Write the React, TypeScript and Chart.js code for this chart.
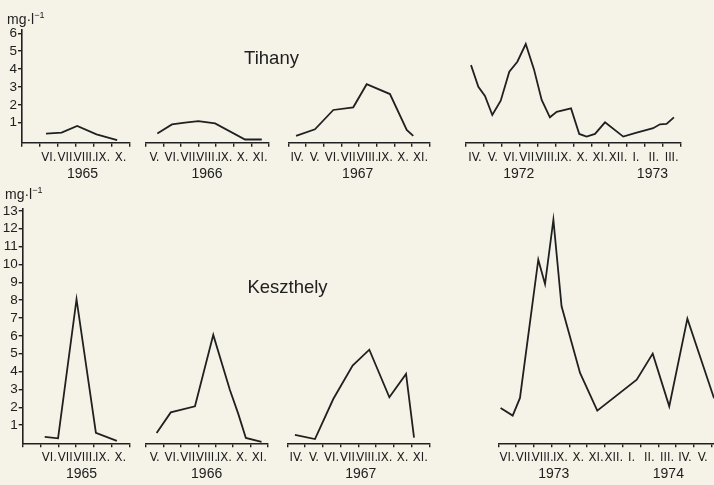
import React, { useEffect, useRef } from 'react';
import { Chart, registerables } from 'chart.js';

Chart.register(...registerables);

const INK = '#202020';
const BG = '#f5f3e8';
const NARROW = "'Liberation Sans Narrow', 'DejaVu Sans Condensed', 'Liberation Sans', sans-serif";
const SANS = "'Liberation Sans', 'DejaVu Sans', sans-serif";

// ---------------- data (x = month number, 13 = January of the following year) ----------------
// Tihany
const tihany1965Months = [6.34, 7.21, 8.08, 9.16, 10.31];
const tihany1965Values = [0.39, 0.44, 0.82, 0.35, 0.03];
const tihany1965Ticks = ['VI.', 'VII.', 'VIII.', 'IX.', 'X.'];
const tihany1965Years = ['1965'];

const tihany1966Months = [5.66, 6.49, 7.23, 7.99, 8.94, 10.64, 11.59];
const tihany1966Values = [0.4, 0.9, 1.0, 1.09, 0.96, 0.06, 0.06];
const tihany1966Ticks = ['V.', 'VI.', 'VII.', 'VIII.', 'IX.', 'X.', 'XI.'];
const tihany1966Years = ['1966'];

const tihany1967Months = [4.44, 5.51, 6.55, 7.68, 8.44, 9.76, 10.71, 11.08];
const tihany1967Values = [0.26, 0.63, 1.71, 1.86, 3.15, 2.6, 0.59, 0.26];
const tihany1967Ticks = ['IV.', 'V.', 'VI.', 'VII.', 'VIII.', 'IX.', 'X.', 'XI.'];
const tihany1967Years = ['1967'];

const tihany1972Months = [4.28, 4.69, 5.06, 5.47, 5.94, 6.42, 6.87, 7.34, 7.8, 8.23, 8.69, 9.07, 9.87, 10.33, 10.74, 11.21, 11.77, 12.79, 13.44, 14.46, 14.84, 15.21, 15.62];
const tihany1972Values = [4.22, 3.01, 2.49, 1.43, 2.23, 3.85, 4.41, 5.4, 3.98, 2.27, 1.3, 1.61, 1.8, 0.37, 0.22, 0.37, 1.02, 0.22, 0.41, 0.69, 0.91, 0.93, 1.3];
const tihany1972Ticks = ['IV.', 'V.', 'VI.', 'VII.', 'VIII.', 'IX.', 'X.', 'XI.', 'XII.', 'I.', 'II.', 'III.'];
const tihany1972Years = ['1972', '1973'];

// Keszthely
const keszthely1965Months = [6.24, 6.99, 8.03, 9.12, 10.3];
const keszthely1965Values = [0.34, 0.26, 8.05, 0.56, 0.12];
const keszthely1965Ticks = ['VI.', 'VII.', 'VIII.', 'IX.', 'X.'];
const keszthely1965Years = ['1965'];

const keszthely1966Months = [5.61, 6.42, 7.81, 8.86, 9.81, 10.29, 10.73, 11.63];
const keszthely1966Values = [0.56, 1.71, 2.05, 6.05, 2.98, 1.64, 0.28, 0.06];
const keszthely1966Ticks = ['V.', 'VI.', 'VII.', 'VIII.', 'IX.', 'X.', 'XI.'];
const keszthely1966Years = ['1966'];

const keszthely1967Months = [4.43, 5.56, 6.59, 7.68, 8.62, 9.75, 10.69, 11.14];
const keszthely1967Values = [0.45, 0.22, 2.46, 4.33, 5.22, 2.56, 3.86, 0.3];
const keszthely1967Ticks = ['IV.', 'V.', 'VI.', 'VII.', 'VIII.', 'IX.', 'X.', 'XI.'];
const keszthely1967Years = ['1967'];

const keszthely1973Months = [6.13, 6.81, 7.22, 8.25, 8.63, 9.1, 9.56, 10.6, 11.57, 13.79, 14.69, 15.62, 16.64, 18.14];
const keszthely1973Values = [1.96, 1.53, 2.52, 10.26, 8.9, 12.5, 7.65, 3.92, 1.81, 3.54, 5.0, 2.05, 6.96, 2.5];
const keszthely1973Ticks = ['VI.', 'VII.', 'VIII.', 'IX.', 'X.', 'XI.', 'XII.', 'I.', 'II.', 'III.', 'IV.', 'V.'];
const keszthely1973Years = ['1973', '1974'];

const tihanyYTicks = [1, 2, 3, 4, 5, 6];
const keszthelyYTicks = [1, 2, 3, 4, 5, 6, 7, 8, 9, 10, 11, 12, 13];

// ---------------- layout ----------------
type RowDef = { top: number; bottom: number; yMin: number; yMax: number; yTicks: number[] };
const TOP_ROW: RowDef = { top: 29.7, bottom: 142.7, yMin: -0.12, yMax: 6.2, yTicks: tihanyYTicks };
const BOTTOM_ROW: RowDef = { top: 209.0, bottom: 443.3, yMin: -0.02, yMax: 13.1, yTicks: keszthelyYTicks };

type PanelDef = {
  row: RowDef;
  yAxis: boolean;
  left: number;
  right: number;
  min: number;
  max: number;
  months: number[];
  values: number[];
  ticks: string[];
  firstLabelMonth: number;
  years: string[];
  yearAt: number[];
};

const PANELS: PanelDef[] = [
  { row: TOP_ROW, yAxis: true, left: 22, right: 129.5, min: 5, max: 11, months: tihany1965Months, values: tihany1965Values, ticks: tihany1965Ticks, firstLabelMonth: 6, years: tihany1965Years, yearAt: [8.38] },
  { row: TOP_ROW, yAxis: false, left: 145.7, right: 269, min: 5, max: 12, months: tihany1966Months, values: tihany1966Values, ticks: tihany1966Ticks, firstLabelMonth: 5, years: tihany1966Years, yearAt: [8.48] },
  { row: TOP_ROW, yAxis: false, left: 288.3, right: 429.5, min: 4, max: 12, months: tihany1967Months, values: tihany1967Values, ticks: tihany1967Ticks, firstLabelMonth: 4, years: tihany1967Years, yearAt: [7.93] },
  { row: TOP_ROW, yAxis: false, left: 466, right: 680.7, min: 4, max: 16, months: tihany1972Months, values: tihany1972Values, ticks: tihany1972Ticks, firstLabelMonth: 4, years: tihany1972Years, yearAt: [6.95, 14.42] },
  { row: BOTTOM_ROW, yAxis: true, left: 22.7, right: 129.3, min: 5, max: 11, months: keszthely1965Months, values: keszthely1965Values, ticks: keszthely1965Ticks, firstLabelMonth: 6, years: keszthely1965Years, yearAt: [8.31] },
  { row: BOTTOM_ROW, yAxis: false, left: 146, right: 268, min: 5, max: 12, months: keszthely1966Months, values: keszthely1966Values, ticks: keszthely1966Ticks, firstLabelMonth: 5, years: keszthely1966Years, yearAt: [8.48] },
  { row: BOTTOM_ROW, yAxis: false, left: 287.3, right: 429.3, min: 4, max: 12, months: keszthely1967Months, values: keszthely1967Values, ticks: keszthely1967Ticks, firstLabelMonth: 4, years: keszthely1967Years, yearAt: [8.14] },
  { row: BOTTOM_ROW, yAxis: false, left: 498.3, right: 738.2, min: 6, max: 19.5, months: keszthely1973Months, values: keszthely1973Values, ticks: keszthely1973Ticks, firstLabelMonth: 6, years: keszthely1973Years, yearAt: [9.12, 15.57] },
];

const X_AXIS_H = 45;
const PAD = 10;

function Panel({ def }: { def: PanelDef }) {
  const ref = useRef<HTMLCanvasElement | null>(null);
  const areaW = def.right - def.left;
  const areaH = def.row.bottom - def.row.top;
  const yW = def.yAxis ? def.left : 0;
  const canvasLeft = def.yAxis ? 0 : Math.floor(def.left - PAD);
  const areaLeftIn = def.left - canvasLeft;
  const padLeft = areaLeftIn - yW;
  const canvasTop = Math.floor(def.row.top - 12);
  const padTop = def.row.top - canvasTop;
  const H = Math.ceil(padTop + areaH + X_AXIS_H);
  const padBottom = H - X_AXIS_H - padTop - areaH;
  const W = Math.ceil(areaLeftIn + areaW + PAD);
  const padRight = W - areaLeftIn - areaW;

  useEffect(() => {
    if (!ref.current) return;
    const monthFont = { family: NARROW, size: 13, lineHeight: 1.15 };
    const yearFont = { family: SANS, size: 14, lineHeight: 1.15 };
    const chart = new Chart(ref.current, {
      type: 'line',
      data: {
        datasets: [
          {
            data: def.months.map((m, i) => ({ x: m, y: def.values[i] })),
            borderColor: INK,
            borderWidth: 1.8,
            pointRadius: 0,
            tension: 0,
            fill: false,
            clip: false as any,
          },
        ],
      },
      options: {
        responsive: false,
        devicePixelRatio: 1,
        animation: false,
        events: [],
        layout: { padding: { left: padLeft, right: padRight, top: padTop, bottom: padBottom } },
        plugins: { legend: { display: false }, tooltip: { enabled: false }, title: { display: false } },
        scales: {
          x: {
            type: 'linear',
            position: 'bottom',
            min: def.min,
            max: def.max,
            afterBuildTicks: (scale: any) => {
              const t: any[] = [];
              for (let m = Math.ceil(def.min); m <= Math.floor(def.max); m++) t.push({ value: m, kind: 'b', lbl: '' });
              def.ticks.forEach((l, i) => t.push({ value: def.firstLabelMonth + i + 0.5, kind: 'm', lbl: l }));
              def.years.forEach((y, i) => t.push({ value: def.yearAt[i], kind: 'y', lbl: ['', y] }));
              t.sort((a, b) => a.value - b.value);
              scale.ticks = t;
            },
            afterFit: (scale: any) => {
              scale.height = X_AXIS_H;
            },
            border: { display: true, color: INK, width: 1.6 },
            grid: {
              display: true,
              drawOnChartArea: false,
              drawTicks: true,
              tickLength: 4,
              lineWidth: 1.4,
              color: INK,
              tickColor: (ctx: any) => (ctx.tick && ctx.tick.kind === 'b' ? INK : 'rgba(0,0,0,0)'),
            },
            ticks: {
              autoSkip: false,
              maxRotation: 0,
              minRotation: 0,
              padding: 3,
              color: INK,
              font: (ctx: any) => (ctx.tick && ctx.tick.kind === 'y' ? yearFont : monthFont),
              callback: (_v: any, i: number, ticks: any[]) => ticks[i].lbl,
            },
          },
          y: {
            type: 'linear',
            display: def.yAxis,
            min: def.row.yMin,
            max: def.row.yMax,
            afterBuildTicks: (scale: any) => {
              scale.ticks = def.row.yTicks.map((v) => ({ value: v }));
            },
            afterFit: (scale: any) => {
              scale.width = yW;
            },
            border: { display: true, color: INK, width: 1.6 },
            grid: { display: true, drawOnChartArea: false, drawTicks: true, tickLength: 4, lineWidth: 1.4, color: INK },
            ticks: {
              padding: 1,
              color: INK,
              font: { family: SANS, size: 13.5 },
              callback: (v: any) => String(v),
            },
          },
        },
      } as any,
    });
    return () => chart.destroy();
  }, []);

  return (
    <canvas
      ref={ref}
      width={W}
      height={H}
      style={{ position: 'absolute', left: canvasLeft, top: canvasTop, width: W, height: H }}
    />
  );
}

function Unit({ left, top }: { left: number; top: number }) {
  return (
    <div style={{ position: 'absolute', left, top, fontFamily: SANS, fontSize: 14, lineHeight: 1, color: INK, whiteSpace: 'nowrap' }}>
      mg·l<span style={{ position: 'relative', top: -6, fontSize: 9 }}>−1</span>
    </div>
  );
}

function Title({ text, cx, cy }: { text: string; cx: number; cy: number }) {
  return (
    <div
      style={{
        position: 'absolute',
        left: cx,
        top: cy,
        transform: 'translate(-50%, -50%)',
        fontFamily: SANS,
        fontSize: 18.5,
        lineHeight: 1,
        color: INK,
        whiteSpace: 'nowrap',
      }}
    >
      {text}
    </div>
  );
}

export default function App() {
  return (
    <div
      style={{
        position: 'fixed',
        left: 0,
        top: 0,
        width: 714,
        height: 485,
        overflow: 'hidden',
        background: BG,
      }}
    >
      {PANELS.map((p, i) => (
        <Panel key={i} def={p} />
      ))}
      <Unit left={7} top={11.5} />
      <Unit left={5} top={187} />
      <Title text="Tihany" cx={271.5} cy={57.5} />
      <Title text="Keszthely" cx={287.5} cy={286.5} />
    </div>
  );
}
